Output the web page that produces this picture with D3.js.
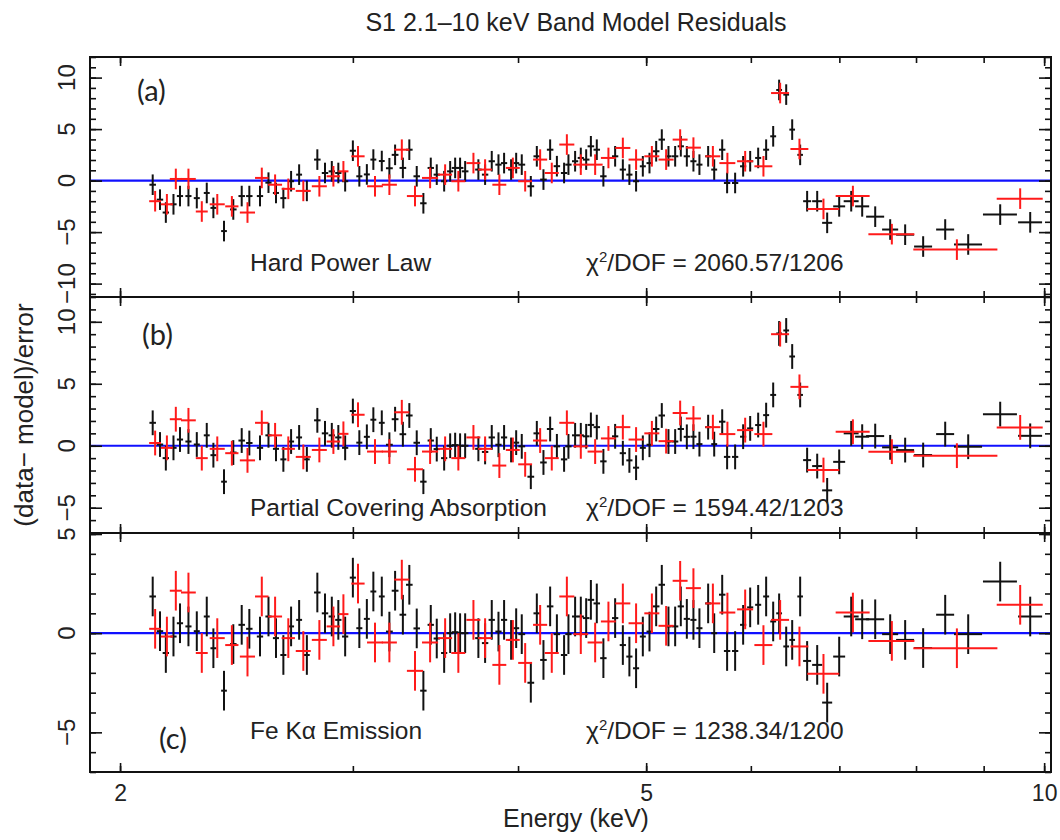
<!DOCTYPE html>
<html>
<head>
<meta charset="utf-8">
<script src="https://d3js.org/d3.v7.min.js"></script>
<style>
  body { margin: 0; background: #fff; }
  text { font-family: "Liberation Sans", Arial, Helvetica, sans-serif; fill: #222; }
  .tick line { stroke: #111; stroke-width: 1.6; }
</style>
</head>
<body>
<div id="chart"></div>
<script>
// ---- data ----
// black spectrum: bin centre (keV) and half width (keV)
var blackE = [
  2.117, 2.144, 2.166, 2.195, 2.220, 2.253, 2.286, 2.326, 2.353, 2.397,
  2.436, 2.472, 2.505, 2.552, 2.590, 2.624, 2.658, 2.694, 2.732, 2.769,
  2.820, 2.858, 2.892, 2.925, 2.960, 3.000, 3.034, 3.074, 3.109, 3.155,
  3.197, 3.229, 3.273, 3.310, 3.353, 3.392, 3.436, 3.472, 3.517, 3.554,
  3.585, 3.616, 3.648, 3.733, 3.777, 3.821, 3.866, 3.904, 3.952, 3.987,
  4.026, 4.090, 4.133, 4.181, 4.230, 4.280, 4.334, 4.367, 4.418, 4.462,
  4.504, 4.541, 4.588, 4.641, 4.737, 4.801, 4.856, 4.913, 4.971, 5.029,
  5.088, 5.138, 5.198, 5.259, 5.311, 5.367, 5.429, 5.486, 5.570, 5.629,
  5.708, 5.757, 5.838, 5.920, 5.993, 6.077, 6.162, 6.238, 6.303, 6.381,
  6.448, 6.538, 6.618, 6.735, 6.853, 6.998, 7.146, 7.284, 7.451, 7.648,
  7.850, 8.100, 8.417, 8.761, 9.263, 9.760
]
var blackDE = [
  0.012, 0.012, 0.012, 0.012, 0.012, 0.012, 0.012, 0.012, 0.012, 0.012,
  0.014, 0.014, 0.014, 0.014, 0.014, 0.014, 0.014, 0.014, 0.014, 0.014,
  0.016, 0.016, 0.016, 0.016, 0.016, 0.016, 0.016, 0.016, 0.016, 0.016,
  0.019, 0.019, 0.019, 0.019, 0.019, 0.019, 0.019, 0.019, 0.019, 0.019,
  0.021, 0.021, 0.021, 0.021, 0.021, 0.021, 0.021, 0.021, 0.021, 0.021,
  0.024, 0.024, 0.024, 0.024, 0.024, 0.024, 0.024, 0.024, 0.024, 0.024,
  0.026, 0.026, 0.026, 0.026, 0.026, 0.026, 0.026, 0.026, 0.026, 0.026,
  0.029, 0.029, 0.029, 0.029, 0.029, 0.029, 0.029, 0.029, 0.029, 0.029,
  0.032, 0.032, 0.032, 0.032, 0.032, 0.032, 0.032, 0.032, 0.032, 0.032,
  0.032, 0.032, 0.046, 0.059, 0.060, 0.073, 0.093, 0.089, 0.117, 0.107,
  0.123, 0.127, 0.132, 0.214, 0.274, 0.204
]
// residuals, (data-model)/error, black spectrum
var blackA = [
  -0.4, -1.85, -3.1, -2.3, -1.5, -1.5, -1.7, -1.2, -2.65, -4.9,
  -2.8, -1.5, -1.5, -1.5, -0.2, -1.2, -1.7, -0.06, 0.58, -1.0,
  2.04, 0.74, 0.9, 0.74, -0.06, 2.9, 0.42, 0.6, 2.04, 1.9,
  1.2, 2.5, 1.23, 3.0, 0.42, -2.2, 1.23, 0.58, -0.06, 0.9,
  1.23, 1.23, 0.9, 1.07, 0.58, 1.88, 1.55, 1.7, 1.07, 1.7,
  1.55, -0.55, 2.36, 0.1, 3.0, 1.4, 0.74, 1.55, 1.88, 2.2,
  2.04, 3.33, 3.0, 0.42, 2.36, 1.07, 0.58, -0.06, 1.39, 1.7,
  2.85, 3.98, 2.36, 2.36, 3.33, 2.36, 1.88, 1.55, 2.36, 1.07,
  3.0, -0.23, -0.23, 1.39, 1.88, 2.2, 3.0, 4.3, 8.8, 8.35,
  4.95, 2.5, -2.0, -2.0, -4.1, -2.5, -2.0, -2.5, -3.5, -4.75,
  -5.25, -6.4, -4.75, -6.2, -3.3, -4.05
]
var blackB = [
  1.85, 0.1, -1.0, -0.17, 0.5, 0.34, 0.1, 0.84, -0.76, -2.9,
  -0.55, 0.42, 0.22, -0.17, 0.84, -0.25, -1.1, 0.34, 0.67, -1.1,
  2.05, 1.0, 0.84, 0.67, -0.17, 2.8, 0.25, 0.72, 2.1, 1.85,
  0.08, 2.14, 0.93, 2.44, 0.24, -2.9, 0.42, -0.27, -1.0, 0.0,
  0.05, 0.0, 0.0, -0.25, -0.5, 0.67, 0.08, 0.67, -0.34, 0.25,
  -0.05, -2.5, 1.0, -1.35, 1.35, -0.05, -1.1, -0.05, 0.84, 0.84,
  0.76, 1.68, 1.5, -1.26, 0.76, -0.6, -1.18, -1.77, -0.17, 0.08,
  1.35, 2.44, 0.34, 0.34, 1.35, 0.72, 0.73, 0.13, 1.5, 0.13,
  1.94, -0.9, -0.9, 0.73, 1.4, 1.67, 2.47, 4.1, 9.06, 9.3,
  7.2, 4.1, -1.16, -1.64, -3.6, -1.3, 1.0, 0.73, 0.78, -0.13,
  -0.35, -0.75, 0.94, -0.08, 2.55, 0.8
]
var blackC = [
  1.85, 0.1, -1.0, -0.17, 0.5, 0.34, 0.1, 0.84, -0.76, -2.9,
  -0.55, 0.42, 0.22, -0.17, 0.84, -0.25, -1.1, 0.34, 0.67, -1.1,
  2.05, 1.0, 0.84, 0.67, -0.17, 2.8, 0.25, 0.72, 2.1, 1.85,
  0.08, 2.14, 0.93, 2.44, 0.24, -2.9, 0.42, -0.27, -1.0, 0.0,
  0.05, 0.0, 0.0, -0.25, -0.5, 0.67, 0.08, 0.67, -0.34, 0.25,
  -0.05, -2.5, 1.0, -1.35, 1.35, -0.05, -1.1, -0.05, 0.84, 0.84,
  0.76, 1.68, 1.5, -1.26, 0.76, -0.6, -1.18, -1.77, -0.17, 0.08,
  1.35, 2.44, 0.34, 0.34, 1.35, 0.72, 0.67, 0.25, 1.5, 0.0,
  1.94, -0.9, -0.9, 0.42, 1.3, 1.43, 1.85, 0.59, 1.0, -0.67,
  -0.34, 1.85, -1.4, -1.6, -3.5, -1.18, 0.84, 0.7, 0.7, -0.05,
  -0.34, -0.75, 0.93, -0.05, 2.6, 0.84
]

// red spectrum: bin centre (keV) and half width (keV)
var redE = [
  2.126, 2.170, 2.204, 2.253, 2.306, 2.369, 2.430, 2.497, 2.560, 2.620,
  2.681, 2.752, 2.830, 2.900, 2.951, 3.027, 3.118, 3.197, 3.267, 3.343,
  3.432, 3.523, 3.605, 3.701, 3.777, 3.872, 3.964, 4.050, 4.157, 4.242,
  4.355, 4.462, 4.575, 4.682, 4.801, 4.913, 5.050, 5.177, 5.305, 5.429,
  5.616, 5.760, 5.941, 6.133, 6.314, 6.530, 6.809, 7.167, 7.670, 8.590,
  9.591
]
var redDE = [
  0.022, 0.023, 0.023, 0.029, 0.024, 0.031, 0.028, 0.033, 0.030, 0.032,
  0.031, 0.036, 0.037, 0.034, 0.026, 0.035, 0.043, 0.042, 0.043, 0.047,
  0.048, 0.043, 0.044, 0.045, 0.046, 0.047, 0.048, 0.049, 0.051, 0.052,
  0.057, 0.058, 0.060, 0.061, 0.063, 0.064, 0.066, 0.068, 0.069, 0.071,
  0.073, 0.080, 0.083, 0.096, 0.099, 0.102, 0.190, 0.212, 0.307, 0.628,
  0.384
]
var redA = [
  -2.0, -2.3, 0.16, 0.16, -3.0, -2.3, -2.5, -3.1, 0.26, -0.4,
  -0.8, -1.0, -0.55, 0.42, 0.9, 2.36, -0.55, -0.4, 3.0, -1.5,
  0.26, 0.58, -0.06, 1.7, 1.07, -0.4, 1.23, -0.06, 2.04, 0.74,
  3.5, 1.55, 1.55, 2.2, 3.17, 2.04, 2.36, 2.04, 3.98, 3.2,
  2.36, 1.7, 1.88, 1.39, 8.5, 3.07, -2.75, -1.5, -5.2, -6.7,
  -1.75
]
var redB = [
  0.22, -0.17, 2.14, 2.05, -1.0, -0.25, -0.6, -1.18, 1.85, 0.84,
  -0.25, -0.9, -0.34, 0.34, 0.96, 2.5, -0.47, -0.47, 2.7, -1.9,
  -0.47, -0.25, -1.0, 0.67, -0.25, -1.6, -0.34, -1.5, 0.42, -1.0,
  1.85, -0.05, -0.47, 0.59, 1.5, 0.5, 1.0, 0.37, 2.64, 2.2,
  1.5, 0.94, 1.26, 0.94, 9.0, 4.75, -1.96, 1.13, -0.48, -0.8,
  1.48
]
var redC = [
  0.22, -0.17, 2.14, 2.05, -1.0, -0.25, -0.6, -1.18, 1.85, 0.84,
  -0.25, -0.9, -0.34, 0.34, 0.96, 2.5, -0.47, -0.47, 2.7, -1.9,
  -0.47, -0.25, -1.0, 0.67, -0.25, -1.6, -0.34, -1.5, 0.42, -1.0,
  1.85, -0.05, -0.47, 0.59, 1.5, 0.5, 1.0, 0.37, 2.64, 2.27,
  1.5, 1.04, 1.2, -0.6, 0.67, -0.67, -2.05, 1.04, -0.39, -0.76,
  1.43
]
var residualErr = 1   // every residual bar is +/- 1 sigma

var xMinorTicks = [2, 3, 4, 5, 6, 7, 8, 9, 10]
var xMajorTicks = [2, 5, 10]

var panelLabels = ["(a)", "(b)", "(c)"]
var modelNames = ["Hard Power Law", "Partial Covering Absorption", "Fe K\u03b1 Emission"]
var chiValues = ["2060.57/1206", "1594.42/1203", "1238.34/1200"]
var yLabelTicks = [[10, 5, 0, -5, -10], [10, 5, 0, -5], [5, 0, -5]]

// ---- layout ----
var width = 1060, height = 840
var left = 90, right = 1051

var panels = [
  {top: 57,  bottom: 297, yDomain: [-11.3, 12],  black: blackA, red: redA,
   labelPos: [137, 101], textBase: 271},
  {top: 297, bottom: 533, yDomain: [-7.04, 12],  black: blackB, red: redB,
   labelPos: [142, 345], textBase: 516},
  {top: 533, bottom: 772, yDomain: [-7.0, 5.05], black: blackC, red: redC,
   labelPos: [159, 749], textBase: 739}
]

var svg = d3.select("#chart")
  .append("svg")
  .attr("width", width)
  .attr("height", height)

var xPositionScale = d3.scaleLog()
  .domain([1.898, 10.12])
  .range([left, right])

function minus(v) {
  return v < 0 ? "\u2212" + Math.abs(v) : String(v)
}

function drawCrosses(g, energies, widths, values, colour, y) {
  var pts = energies.map(function(e, i) {
    return {e: e, de: widths[i], v: values[i]}
  })
  var cross = g.append("g").selectAll("g")
    .data(pts)
    .enter().append("g")
    .attr("stroke", colour)
    .attr("stroke-width", 2)

  cross.append("line")
    .attr("x1", function(d) { return xPositionScale(d.e - d.de) })
    .attr("x2", function(d) { return xPositionScale(d.e + d.de) })
    .attr("y1", function(d) { return y(d.v) })
    .attr("y2", function(d) { return y(d.v) })

  cross.append("line")
    .attr("x1", function(d) { return xPositionScale(d.e) })
    .attr("x2", function(d) { return xPositionScale(d.e) })
    .attr("y1", function(d) { return y(d.v - residualErr) })
    .attr("y2", function(d) { return y(d.v + residualErr) })
}

panels.forEach(function(p, i) {
  var yPositionScale = d3.scaleLinear()
    .domain(p.yDomain)
    .range([p.bottom, p.top])

  var yMinor = d3.range(Math.ceil(p.yDomain[0]), Math.floor(p.yDomain[1]) + 1)
  var yMajor = yMinor.filter(function(v) { return v % 5 === 0 })

  svg.append("clipPath")
    .attr("id", "clip" + i)
    .append("rect")
    .attr("x", left)
    .attr("y", p.top)
    .attr("width", right - left)
    .attr("height", p.bottom - p.top)

  var plot = svg.append("g")
    .attr("clip-path", "url(#clip" + i + ")")

  plot.append("line")
    .attr("x1", left)
    .attr("x2", right)
    .attr("y1", yPositionScale(0))
    .attr("y2", yPositionScale(0))
    .attr("stroke", "#1010ff")
    .attr("stroke-width", 2.2)

  drawCrosses(plot, blackE, blackDE, p.black, "#111", yPositionScale)
  drawCrosses(plot, redE, redDE, p.red, "#ff1a1a", yPositionScale)

  // ticks on all four sides, pointing inwards
  function ticks(axis, tx, ty) {
    svg.append("g")
      .attr("class", "axis")
      .attr("transform", "translate(" + tx + "," + ty + ")")
      .call(axis)
      .call(function(g) { g.select(".domain").remove() })
  }
  ticks(d3.axisBottom(xPositionScale).tickValues(xMinorTicks).tickSize(-6).tickFormat(""), 0, p.bottom)
  ticks(d3.axisBottom(xPositionScale).tickValues(xMajorTicks).tickSize(-9).tickFormat(""), 0, p.bottom)
  ticks(d3.axisTop(xPositionScale).tickValues(xMinorTicks).tickSize(-6).tickFormat(""), 0, p.top)
  ticks(d3.axisTop(xPositionScale).tickValues(xMajorTicks).tickSize(-9).tickFormat(""), 0, p.top)
  ticks(d3.axisLeft(yPositionScale).tickValues(yMinor).tickSize(-6).tickFormat(""), left, 0)
  ticks(d3.axisLeft(yPositionScale).tickValues(yMajor).tickSize(-12).tickFormat(""), left, 0)
  ticks(d3.axisRight(yPositionScale).tickValues(yMinor).tickSize(-6).tickFormat(""), right, 0)
  ticks(d3.axisRight(yPositionScale).tickValues(yMajor).tickSize(-12).tickFormat(""), right, 0)

  svg.append("rect")
    .attr("x", left)
    .attr("y", p.top)
    .attr("width", right - left)
    .attr("height", p.bottom - p.top)
    .attr("fill", "none")
    .attr("stroke", "#111")
    .attr("stroke-width", 2)

  // rotated y tick labels
  svg.append("g").selectAll("text")
    .data(yLabelTicks[i])
    .enter().append("text")
    .attr("transform", function(d) {
      return "translate(75," + yPositionScale(d) + ") rotate(-90)"
    })
    .attr("text-anchor", "middle")
    .attr("font-size", 24)
    .text(minus)

  svg.append("text")
    .attr("x", p.labelPos[0])
    .attr("y", p.labelPos[1])
    .attr("font-size", 29)
    .style("font-family", "Lato, 'Open Sans', sans-serif")
    .text(panelLabels[i])

  svg.append("text")
    .attr("x", 250)
    .attr("y", p.textBase)
    .attr("font-size", 24.5)
    .text(modelNames[i])

  var chi = svg.append("text")
    .attr("x", 586)
    .attr("y", p.textBase)
    .attr("font-size", 24.5)
  chi.append("tspan").text("\u03c7")
  chi.append("tspan").attr("font-size", 15).attr("dy", -9).text("2")
  chi.append("tspan").attr("dy", 9).text("/DOF = " + chiValues[i])
})

// x tick labels under the bottom panel
svg.append("g")
  .attr("transform", "translate(0,772)")
  .call(d3.axisBottom(xPositionScale).tickValues(xMajorTicks).tickSize(0).tickPadding(13).tickFormat(d3.format("d")))
  .call(function(g) {
    g.select(".domain").remove()
    g.selectAll("text").attr("font-size", 23).attr("fill", "#222")
      .style("font-family", "'Liberation Sans', Arial, sans-serif")
  })

svg.append("text")
  .attr("x", 576)
  .attr("y", 827)
  .attr("text-anchor", "middle")
  .attr("font-size", 25)
  .text("Energy (keV)")

svg.append("text")
  .attr("transform", "translate(33,415) rotate(-90)")
  .attr("text-anchor", "middle")
  .attr("font-size", 26)
  .text("(data\u2212 model)/error")

svg.append("text")
  .attr("x", 576)
  .attr("y", 31)
  .attr("text-anchor", "middle")
  .attr("font-size", 25)
  .text("S1 2.1\u201310 keV Band Model Residuals")
</script>
</body>
</html>
